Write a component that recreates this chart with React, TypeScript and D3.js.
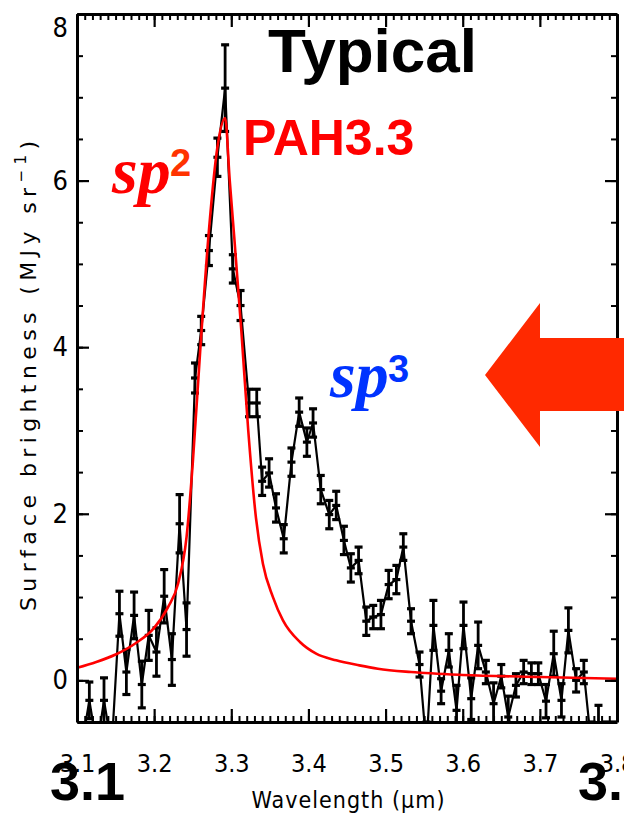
import React, { useRef, useEffect } from "react";
import * as d3 from "d3";

const wavelength = [
  3.106, 3.116, 3.126, 3.135, 3.145, 3.155, 3.164, 3.174, 3.184, 3.193,
  3.203, 3.213, 3.223, 3.233, 3.242, 3.253, 3.261, 3.271, 3.282, 3.292,
  3.302, 3.312, 3.323, 3.333, 3.340, 3.349, 3.358, 3.368, 3.378, 3.388,
  3.398, 3.406, 3.416, 3.427, 3.436, 3.446, 3.455, 3.465, 3.475, 3.484,
  3.494, 3.504, 3.514, 3.523, 3.533, 3.544, 3.553, 3.562, 3.572, 3.582,
  3.592, 3.601, 3.611, 3.620, 3.630, 3.640, 3.650, 3.659, 3.669, 3.679,
  3.689, 3.698, 3.708, 3.718, 3.728, 3.737, 3.747, 3.757, 3.767, 3.776,
  3.786, 3.795,
];
const flux = [
  -0.8, -0.24, -0.8, -0.24, -0.8, 0.8, 0.1, 0.78, -0.05, 0.54,
  0.34, 1.01, 0.25, 1.88, 0.61, 3.63, 4.2, 5.16, 6.28, 7.11,
  4.94, 4.5, 3.33, 3.33, 2.39, 2.49, 2.07, 1.7, 2.62, 3.22,
  2.86, 3.09, 2.29, 1.99, 2.1, 1.68, 1.35, 1.44, 0.71, 0.76,
  0.79, 1.15, 1.21, 1.6, 0.71, 0.19, -0.8, 0.66, -0.13, 0.36,
  -0.36, 0.66, -0.22, 0.42, 0.1, -0.28, 0.05, -0.44, -0.06, 0.1,
  0.08, 0.08, -0.25, 0.32, -0.24, 0.6, 0.0, 0.1, -0.8, -0.6,
  -0.8, -0.8,
];
const fluxErr = [
  0.27, 0.22, 0.27, 0.27, 0.27, 0.27, 0.27, 0.28, 0.28, 0.3,
  0.29, 0.32, 0.31, 0.35, 0.32, 0.18, 0.17, 0.18, 0.23, 0.52,
  0.17, 0.18, 0.165, 0.165, 0.17, 0.17, 0.17, 0.17, 0.17, 0.17,
  0.17, 0.17, 0.17, 0.17, 0.17, 0.17, 0.17, 0.16, 0.17, 0.14,
  0.17, 0.17, 0.17, 0.16, 0.15, 0.15, 0.3, 0.3, 0.15, 0.2,
  0.3, 0.28, 0.25, 0.28, 0.14, 0.25, 0.14, 0.25, 0.14, 0.14,
  0.13, 0.13, 0.2, 0.27, 0.2, 0.27, 0.14, 0.14, 0.3, 0.3,
  0.3, 0.3,
];

// PAH 3.3 fitted profile
const fitWavelength = [
  3.1, 3.125, 3.15, 3.175, 3.2, 3.218, 3.231, 3.242, 3.25, 3.26,
  3.271, 3.282, 3.292, 3.298, 3.304, 3.313, 3.322, 3.332, 3.341, 3.354,
  3.367, 3.389, 3.41, 3.436, 3.466, 3.49, 3.533, 3.6, 3.7, 3.8,
];
const fitFlux = [
  0.15, 0.22, 0.31, 0.44, 0.63, 0.88, 1.16, 1.72, 2.6, 4.0,
  5.4, 6.4, 6.75, 6.0, 5.3, 4.2, 3.0, 1.95, 1.4, 1.0,
  0.72, 0.46, 0.32, 0.24, 0.18, 0.14, 0.1, 0.065, 0.04, 0.02,
];

const xTicks = [3.1, 3.2, 3.3, 3.4, 3.5, 3.6, 3.7, 3.8];
const yTicks = [0, 2, 4, 6, 8];

const tickFont = "'DejaVu Sans Condensed', 'DejaVu Sans', sans-serif";

const App = () => {
  const svgRef = useRef(null);

  useEffect(() => {
    document.body.style.margin = "0";

    const dims = { width: 624, height: 822, left: 77, right: 617, top: 14, bottom: 722 };

    const svg = d3.select(svgRef.current);
    svg.selectAll("*").remove();

    const xScale = d3.scaleLinear().domain([3.1, 3.8]).range([dims.left, dims.right]);
    const yScale = d3.scaleLinear().domain([-0.5, 8]).range([dims.bottom, dims.top]);

    svg
      .append("defs")
      .append("clipPath")
      .attr("id", "plot-clip")
      .append("rect")
      .attr("x", dims.left)
      .attr("y", dims.top)
      .attr("width", dims.right - dims.left)
      .attr("height", dims.bottom - dims.top);

    const data = wavelength.map((w, i) => ({ w, v: flux[i], e: fluxErr[i] }));
    const fit = fitWavelength.map((w, i) => ({ w, v: fitFlux[i] }));

    const plot = svg.append("g").attr("clip-path", "url(#plot-clip)");

    // data line
    const line = d3
      .line()
      .x((d) => xScale(d.w))
      .y((d) => yScale(d.v));

    plot
      .append("path")
      .datum(data)
      .attr("d", line)
      .attr("fill", "none")
      .attr("stroke", "black")
      .attr("stroke-width", 2.2);

    // error bars
    const bars = plot.append("g").attr("stroke", "black");
    const capW = 4;
    bars
      .selectAll("line.err")
      .data(data)
      .join("line")
      .attr("class", "err")
      .attr("x1", (d) => xScale(d.w))
      .attr("x2", (d) => xScale(d.w))
      .attr("y1", (d) => yScale(d.v - d.e))
      .attr("y2", (d) => yScale(d.v + d.e))
      .attr("stroke-width", 2.8);
    [1, -1, 0].forEach((s) => {
      bars
        .append("g")
        .selectAll("line")
        .data(data)
        .join("line")
        .attr("x1", (d) => xScale(d.w) - capW)
        .attr("x2", (d) => xScale(d.w) + capW)
        .attr("y1", (d) => yScale(d.v + s * d.e))
        .attr("y2", (d) => yScale(d.v + s * d.e))
        .attr("stroke-width", 3.2);
    });

    // fitted profile
    plot
      .append("path")
      .datum(fit)
      .attr("d", line.curve(d3.curveMonotoneX))
      .attr("fill", "none")
      .attr("stroke", "#ff0000")
      .attr("stroke-width", 2.6);

    // axes
    const styleAxis = (g, labels, size) => {
      g.select(".domain").attr("stroke-width", 3);
      g.selectAll(".tick line").attr("stroke-width", 2.2);
      g.selectAll(".tick text")
        .attr("fill", "black")
        .style("font-family", tickFont)
        .style("font-size", `${size}px`);
      if (!labels) g.selectAll(".tick text").remove();
    };
    const minor = (g) => {
      g.select(".domain").remove();
      g.selectAll(".tick line").attr("stroke-width", 2);
      g.selectAll(".tick text").remove();
    };

    const xMinor = xScale.ticks(70);
    const yMinor = yScale.ticks(17);

    // bottom
    svg.append("g")
      .attr("transform", `translate(0,${dims.bottom})`)
      .call(d3.axisBottom(xScale).tickValues(xMinor).tickSize(-6))
      .call(minor);
    svg.append("g")
      .attr("transform", `translate(0,${dims.bottom})`)
      .call(d3.axisBottom(xScale).tickValues(xTicks).tickSize(-13).tickSizeOuter(0).tickPadding(32).tickFormat(d3.format(".1f")))
      .call((g) => styleAxis(g, true, 25));
    // top
    svg.append("g")
      .attr("transform", `translate(0,${dims.top})`)
      .call(d3.axisTop(xScale).tickValues(xMinor).tickSize(-6))
      .call(minor);
    svg.append("g")
      .attr("transform", `translate(0,${dims.top})`)
      .call(d3.axisTop(xScale).tickValues(xTicks).tickSize(-13).tickSizeOuter(0))
      .call((g) => styleAxis(g, false, 25));
    // left
    svg.append("g")
      .attr("transform", `translate(${dims.left},0)`)
      .call(d3.axisLeft(yScale).tickValues(yMinor).tickSize(-6))
      .call(minor);
    const yAxisGroup = svg.append("g")
      .attr("transform", `translate(${dims.left},0)`)
      .call(d3.axisLeft(yScale).tickValues(yTicks).tickSize(-12).tickSizeOuter(0).tickPadding(9))
      .call((g) => styleAxis(g, true, 27));
    // keep the top label inside the picture
    yAxisGroup.selectAll(".tick text").filter((d) => d === 8).attr("dy", "0.85em");
    // right
    svg.append("g")
      .attr("transform", `translate(${dims.right},0)`)
      .call(d3.axisRight(yScale).tickValues(yMinor).tickSize(-6))
      .call(minor);
    svg.append("g")
      .attr("transform", `translate(${dims.right},0)`)
      .call(d3.axisRight(yScale).tickValues(yTicks).tickSize(-12).tickSizeOuter(0))
      .call((g) => styleAxis(g, false, 27));

    // axis titles
    const yTitle = svg
      .append("text")
      .attr("transform", `translate(30,${(dims.top + dims.bottom) / 2 + 8}) rotate(-90)`)
      .attr("text-anchor", "middle")
      .attr("dominant-baseline", "middle")
      .attr("textLength", 470)
      .attr("lengthAdjust", "spacing")
      .style("font-family", "'DejaVu Sans', sans-serif")
      .style("font-size", "22px");
    yTitle.append("tspan").text("Surface brightness (MJy sr");
    yTitle.append("tspan").attr("baseline-shift", "super").style("font-size", "15px").text("\u22121");
    yTitle.append("tspan").text(")");

    svg
      .append("text")
      .attr("x", 348)
      .attr("y", 808)
      .attr("text-anchor", "middle")
      .attr("textLength", 193)
      .attr("lengthAdjust", "spacing")
      .style("font-family", tickFont)
      .style("font-size", "23px")
      .text("Wavelength (\u03bcm)");

    // annotations
    const sans = "'Liberation Sans', Arial, sans-serif";
    const serif = "'Liberation Serif', 'Times New Roman', serif";

    svg.append("text").attr("x", 268).attr("y", 72)
      .style("font-family", sans).style("font-weight", "bold").style("font-size", "62px")
      .attr("fill", "black").text("Typical");
    svg.append("text").attr("x", 243).attr("y", 155)
      .style("font-family", sans).style("font-weight", "bold").style("font-size", "50px")
      .attr("fill", "#ff0000").text("PAH3.3");

    svg.append("text").attr("x", 112).attr("y", 193)
      .style("font-family", serif).style("font-weight", "bold").style("font-style", "italic").style("font-size", "66px")
      .attr("fill", "#ff0000").text("sp");
    svg.append("text").attr("x", 170).attr("y", 176)
      .style("font-family", sans).style("font-weight", "bold").style("font-size", "38px")
      .attr("fill", "#ff3300").text("2");

    svg.append("text").attr("x", 330).attr("y", 397)
      .style("font-family", serif).style("font-weight", "bold").style("font-style", "italic").style("font-size", "66px")
      .attr("fill", "#0033ff").text("sp");
    svg.append("text").attr("x", 388).attr("y", 382)
      .style("font-family", sans).style("font-weight", "bold").style("font-size", "38px")
      .attr("fill", "#0033ff").text("3");

    svg.append("text").attr("x", 50).attr("y", 800)
      .style("font-family", sans).style("font-weight", "bold").style("font-size", "54px")
      .attr("fill", "black").text("3.1");
    svg.append("text").attr("x", 578).attr("y", 800)
      .style("font-family", sans).style("font-weight", "bold").style("font-size", "54px")
      .attr("fill", "black").text("3.8");

    // arrow pointing at the sp3 feature
    svg
      .append("path")
      .attr("d", "M485,375 L540,303 L540,338 L630,338 L630,411 L540,411 L540,447 Z")
      .attr("fill", "#ff2900");
  }, []);

  return (
    <div style={{ position: "absolute", left: 0, top: 0 }}>
      <svg ref={svgRef} width={624} height={822} style={{ display: "block", background: "white" }} />
    </div>
  );
};

export default App;
